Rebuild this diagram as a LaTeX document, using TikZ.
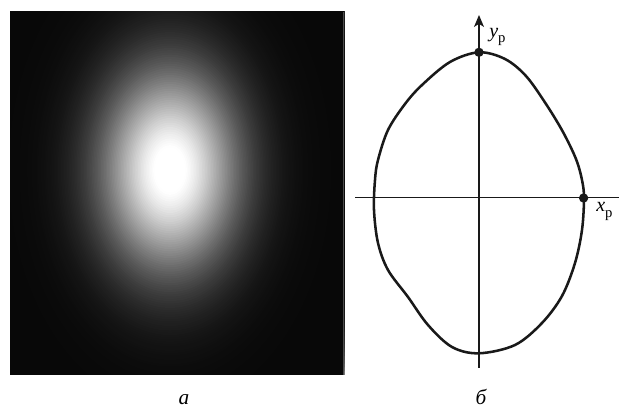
\documentclass[tikz,border=0pt]{standalone}
\usepackage{fontspec}
\setmainfont{Liberation Serif}
\usetikzlibrary{arrows.meta}
\definecolor{bgk}{gray}{0.03}
\definecolor{ink}{gray}{0.1}
\begin{document}
\begin{tikzpicture}[x=0.75pt,y=-0.75pt,
  axisline/.style={draw=ink, line width=0.9pt},
  curveline/.style={draw=ink, line width=1.9pt, line join=round},
  dotnode/.style={circle, fill=ink, inner sep=0pt, minimum size=7pt},
  axlabel/.style={inner sep=0pt, anchor=base west, font=\fontsize{15}{18}\selectfont},
  panlabel/.style={inner sep=0pt, anchor=base, font=\fontsize{16}{18}\selectfont\itshape}]
\useasboundingbox (0,0) rectangle (619,410);
% panel a: beam spot
\begin{scope}
  \clip (10,12) rectangle (344,375);
  \fill[bgk] (10,12) rectangle (344,375);
  \foreach \i in {150,149,...,1}{
    \pgfmathsetmacro\t{4.8*\i/150}
    \pgfmathsetmacro\v{3+97*min(1,1.06*exp(-\t*\t/2))}
    \pgfmathsetmacro\rx{36*\t}
    \pgfmathsetmacro\ry{53*\t}
    \fill[white!\v!black] (170,170) ellipse [x radius=\rx pt, y radius=\ry pt];
  }
  \fill[gray!60!black] (343,12) rectangle (344,375);
\end{scope}
% panel b: contour
\coordinate (xa) at (355,197.7);
\coordinate (xb) at (619,197.7);
\coordinate (ya) at (479,368);
\coordinate (yb) at (479,15);
\draw[axisline] (xa) -- (xb);
\draw[axisline, -{Stealth[length=9pt,width=7.5pt,inset=2.4pt]}] (ya) -- (yb);
\draw[curveline] plot[smooth cycle, tension=0.55] coordinates {
  (479,52.3) (505,59) (526,76) (546,104) (563,132) (576,159) (582,180)
  (584,198) (582,230) (575,263) (562,296) (542,323) (515,345)
  (479,353.3) (452,347) (428,325) (408,297) (388,270) (378,243)
  (374,210) (375,180) (378,160) (388,130) (405,104) (422,85) (450,62)};
\node[dotnode] (ytop) at (479,52.3) {};
\node[dotnode] (xr) at (583.6,198) {};
\node[axlabel] (ylab) at (489,37.5) {\itshape y\raisebox{-4pt}{\fontsize{11}{12}\selectfont\upshape р}};
\node[axlabel] (xlab) at (596,212) {\itshape x\raisebox{-4pt}{\fontsize{11}{12}\selectfont\upshape р}};
\node[panlabel] (la) at (184,405) {а};
\node[panlabel] (lb) at (481,405) {б};
\end{tikzpicture}
\end{document}
